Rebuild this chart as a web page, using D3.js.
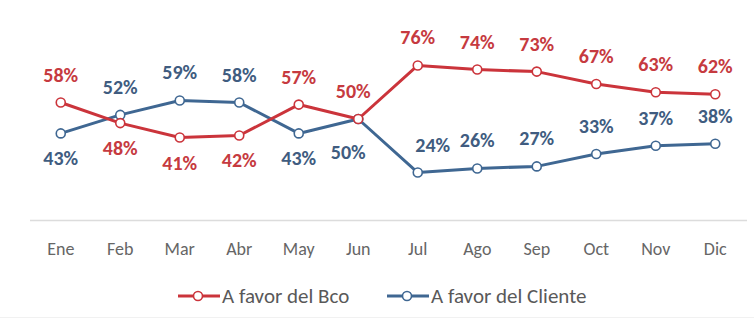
<!DOCTYPE html>
<html>
<head>
<meta charset="utf-8">
<script src="https://cdn.jsdelivr.net/npm/d3@7"></script>
<style>
  html, body { margin: 0; padding: 0; background: #ffffff; }
  svg { display: block; }
</style>
</head>
<body>
<svg id="chart" width="754" height="322"></svg>
<script>
// Monthly share of rulings, in percent
const months = ["Ene", "Feb", "Mar", "Abr", "May", "Jun", "Jul", "Ago", "Sep", "Oct", "Nov", "Dic"];
const favorBco = [58, 48, 41, 42, 57, 50, 76, 74, 73, 67, 63, 62];
const favorCliente = [43, 52, 59, 58, 43, 50, 24, 26, 27, 33, 37, 38];
const seriesNames = ["A favor del Bco", "A favor del Cliente"];

// Where each value label sits relative to its point
const bcoLabelSide = ["above", "below", "below", "below", "above", "above", "above", "above", "above", "above", "above", "above"];
const clienteLabelSide = ["below", "above", "above", "above", "below", "below", "above", "above", "above", "above", "above", "above"];

const W = 754, H = 322;
const RED = "#cb343b", BLUE = "#3f6792";
const LABEL_RED = "#c63a40", LABEL_BLUE = "#405c80";
const FONT = "Carlito, Lato, 'Open Sans', sans-serif";

const svg = d3.select("#chart");

const x = d3.scaleBand().domain(months).range([31, 745]).padding(0);
const cx = m => x(m) + x.bandwidth() / 2;
const y = d3.scaleLinear().domain([0, 100]).range([222, 16]);

// Category axis: a light baseline with month names
const axis = d3.axisBottom(x).tickSize(0).tickPadding(22);
const axisG = svg.append("g")
  .attr("transform", `translate(0,${Math.round(y(0)) - 1.5})`)
  .call(axis);
axisG.select(".domain")
  .attr("stroke", "#dcdcdc")
  .attr("stroke-width", 1.5)
  .attr("d", "M30,0H747");
axisG.selectAll("text")
  .attr("fill", "#666666")
  .style("font-family", FONT)
  .style("font-size", "18px");

// faint frame edge along the bottom
svg.append("line")
  .attr("x1", 0).attr("x2", W).attr("y1", 317.5).attr("y2", 317.5)
  .attr("stroke", "#f1f1f1").attr("stroke-width", 1);

const series = [
  { name: seriesNames[0], values: favorBco, color: RED, labelColor: LABEL_RED, sides: bcoLabelSide },
  { name: seriesNames[1], values: favorCliente, color: BLUE, labelColor: LABEL_BLUE, sides: clienteLabelSide }
];

const line = d3.line()
  .x(d => cx(d.m))
  .y(d => y(d.v));

// Draw client series first so the bank series sits on top where they cross
[series[1], series[0]].forEach(s => {
  const pts = months.map((m, i) => ({ m, v: s.values[i], side: s.sides[i] }));
  const g = svg.append("g");
  g.append("path")
    .datum(pts)
    .attr("d", line)
    .attr("fill", "none")
    .attr("stroke", s.color)
    .attr("stroke-width", 3)
    .attr("stroke-linejoin", "round");
  g.selectAll("circle")
    .data(pts)
    .enter().append("circle")
    .attr("cx", d => cx(d.m))
    .attr("cy", d => y(d.v))
    .attr("r", 4.5)
    .attr("fill", "#ffffff")
    .attr("stroke", s.color)
    .attr("stroke-width", 1.6);
});

// Value labels
const nudge = { "Cliente-Jul": [15, 0], "Cliente-Jun": [-10, 8], "Bco-Jun": [-5, 0] };
series.forEach(s => {
  const key = s === series[0] ? "Bco" : "Cliente";
  svg.append("g").selectAll("text")
    .data(months.map((m, i) => ({ m, v: s.values[i], side: s.sides[i] })))
    .enter().append("text")
    .attr("x", d => cx(d.m) + ((nudge[key + "-" + d.m] || [0, 0])[0]))
    .attr("y", d => y(d.v) + (d.side === "above" ? -28 : 25) + ((nudge[key + "-" + d.m] || [0, 0])[1]))
    .attr("dy", "0.35em")
    .attr("text-anchor", "middle")
    .attr("fill", s.labelColor)
    .style("font-family", FONT)
    .style("font-weight", "bold")
    .style("font-size", "20px")
    .text(d => d.v + "%");
});

// Legend
const legendY = 296;
const legendItems = [
  { s: series[0], x0: 178 },
  { s: series[1], x0: 387 }
];
legendItems.forEach(({ s, x0 }) => {
  const g = svg.append("g");
  g.append("line")
    .attr("x1", x0).attr("x2", x0 + 42)
    .attr("y1", legendY).attr("y2", legendY)
    .attr("stroke", s.color).attr("stroke-width", 3);
  g.append("circle")
    .attr("cx", x0 + 20).attr("cy", legendY).attr("r", 4.5)
    .attr("fill", "#ffffff").attr("stroke", s.color).attr("stroke-width", 1.6);
  g.append("text")
    .attr("x", x0 + 44).attr("y", legendY).attr("dy", "0.35em")
    .attr("fill", "#595959")
    .style("font-family", FONT)
    .style("font-size", "21px")
    .text(s.name);
});
</script>
</body>
</html>
